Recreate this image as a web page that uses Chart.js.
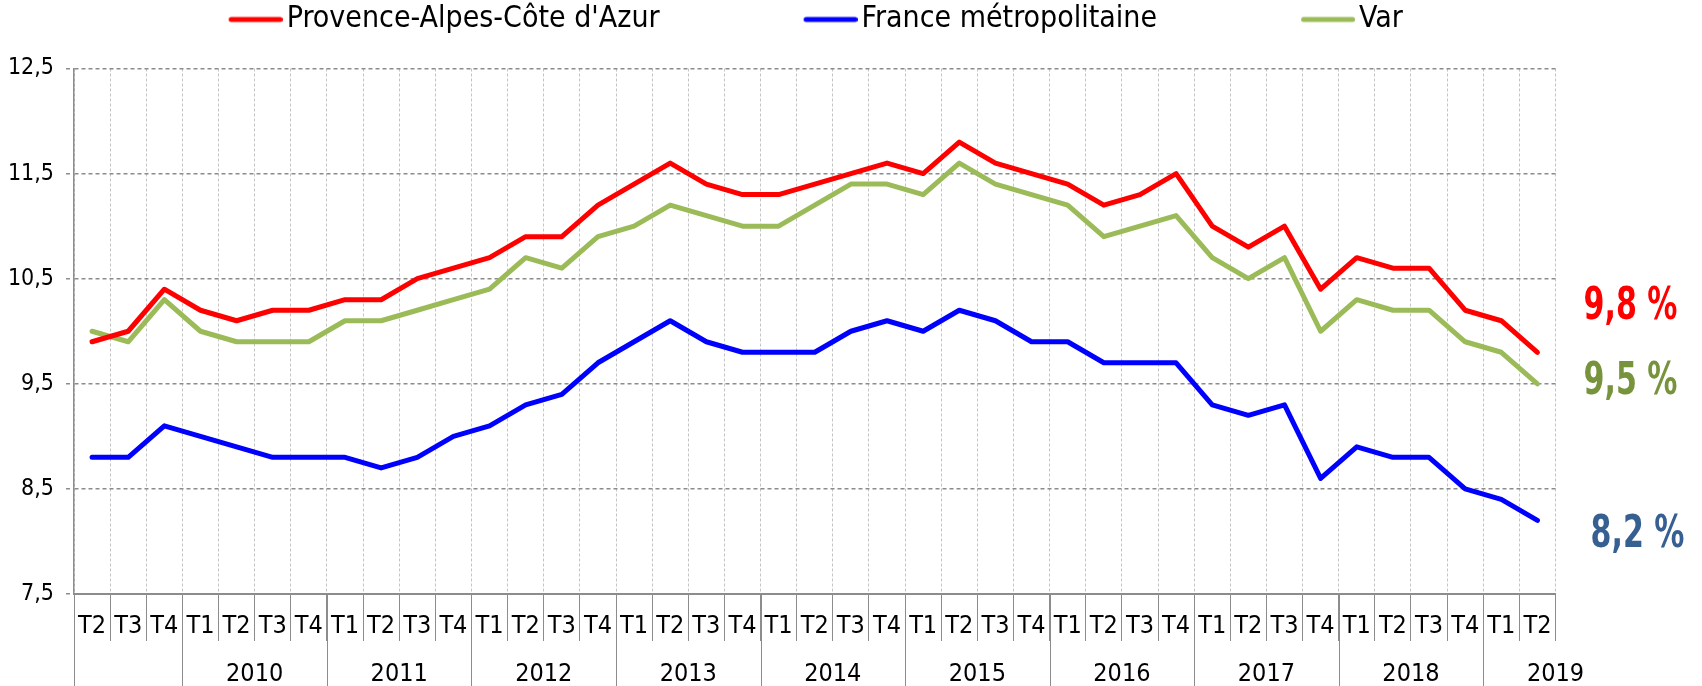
<!DOCTYPE html>
<html>
<head>
<meta charset="utf-8">
<script src="https://cdn.jsdelivr.net/npm/chart.js@4.4.0/dist/chart.umd.min.js"></script>
<style>
html,body{margin:0;padding:0;background:#fff;}
canvas{display:block;}
</style>
</head>
<body>
<canvas id="c" width="1702" height="686"></canvas>
<script>
// ---- data ----
const quarters = ['T2','T3','T4',
  'T1','T2','T3','T4', 'T1','T2','T3','T4', 'T1','T2','T3','T4',
  'T1','T2','T3','T4', 'T1','T2','T3','T4', 'T1','T2','T3','T4',
  'T1','T2','T3','T4', 'T1','T2','T3','T4', 'T1','T2','T3','T4',
  'T1','T2'];
const years = ['2010','2011','2012','2013','2014','2015','2016','2017','2018','2019'];
const yearStarts = [3,7,11,15,19,23,27,31,35,39];

const paca = [9.9,10.0,10.4,10.2,10.1,10.2,10.2,10.3,10.3,10.5,10.6,10.7,10.9,10.9,11.2,11.4,11.6,11.4,11.3,11.3,
  11.4,11.5,11.6,11.5,11.8,11.6,11.5,11.4,11.2,11.3,11.5,11.0,10.8,11.0,10.4,10.7,10.6,10.6,10.2,10.1,9.8];
const france = [8.8,8.8,9.1,9.0,8.9,8.8,8.8,8.8,8.7,8.8,9.0,9.1,9.3,9.4,9.7,9.9,10.1,9.9,9.8,9.8,
  9.8,10.0,10.1,10.0,10.2,10.1,9.9,9.9,9.7,9.7,9.7,9.3,9.2,9.3,8.6,8.9,8.8,8.8,8.5,8.4,8.2];
const varDep = [10.0,9.9,10.3,10.0,9.9,9.9,9.9,10.1,10.1,10.2,10.3,10.4,10.7,10.6,10.9,11.0,11.2,11.1,11.0,11.0,
  11.2,11.4,11.4,11.3,11.6,11.4,11.3,11.2,10.9,11.0,11.1,10.7,10.5,10.7,10.0,10.3,10.2,10.2,9.9,9.8,9.5];
const seriesNames = ["Provence-Alpes-Côte d'Azur", 'France métropolitaine', 'Var'];
const endLabels = ['9,8 %', '9,5 %', '8,2 %'];

// ---- styling ----
const FONT = "'Liberation Sans Narrow', 'DejaVu Sans Condensed', 'Roboto Condensed', 'Liberation Sans', sans-serif";
const LEG_FONT = 30, LEG_W = 183, LEG_EXT = 11, PADL = -64;
Chart.defaults.font.family = FONT;
Chart.defaults.color = '#000';

function legendLine(color) {
  const Wi = LEG_W + 2 * LEG_EXT, h = 8;
  const c = document.createElement('canvas');
  c.width = Wi; c.height = h;
  const g = c.getContext('2d');
  g.strokeStyle = color; g.lineWidth = 5; g.lineCap = 'round';
  g.beginPath(); g.moveTo(Wi - 54 + 2.5, h / 2); g.lineTo(Wi - 2.5, h / 2); g.stroke();
  return c;
}

function ds(label, data, color) {
  return {
    label, data, borderColor: color, backgroundColor: color, borderWidth: 5,
    pointRadius: 0, pointHoverRadius: 0, tension: 0, pointStyle: legendLine(color),
    borderJoinStyle: 'round', borderCapStyle: 'round'
  };
}

const yearAxisPlugin = {
  id: 'yearAxis',
  afterDraw(chart) {
    const {ctx, chartArea, scales: {x, y}} = chart;
    ctx.save();
    ctx.strokeStyle = '#8c8c8c';
    ctx.lineWidth = 1;
    [0].concat(yearStarts).forEach(i => {
      const px = Math.round(x.getPixelForValue(i - 0.5)) + 0.5;
      ctx.beginPath(); ctx.moveTo(px, chartArea.bottom); ctx.lineTo(px, chart.height); ctx.stroke();
    });
    ctx.fillStyle = '#000';
    ctx.font = '25px ' + FONT;
    ctx.textAlign = 'center';
    ctx.textBaseline = 'middle';
    years.forEach((yr, k) => {
      ctx.fillText(yr, x.getPixelForValue(yearStarts[k] + 1.5), chartArea.bottom + 80);
    });
    // end-of-series value labels
    const ends = [
      {t: endLabels[0], c: '#FF0000', v: paca[paca.length - 1], dy: -45, dx: 75},
      {t: endLabels[1], c: '#77933C', v: varDep[varDep.length - 1], dy: -1, dx: 75},
      {t: endLabels[2], c: '#376092', v: france[france.length - 1], dy: 15, dx: 82}
    ];
    ctx.font = 'bold 44px ' + FONT;
    ends.forEach(e => {
      ctx.save();
      ctx.translate(chartArea.right + e.dx, y.getPixelForValue(e.v) + e.dy);
      ctx.scale(0.76, 1);
      ctx.fillStyle = e.c;
      ctx.fillText(e.t, 0, 0);
      ctx.restore();
    });
    ctx.restore();
  }
};

new Chart(document.getElementById('c'), {
  type: 'line',
  data: {
    labels: quarters,
    datasets: [
      ds(seriesNames[0], paca, '#FF0000'),
      ds(seriesNames[1], france, '#0000FF'),
      ds(seriesNames[2], varDep, '#9BBB59')
    ]
  },
  options: {
    responsive: false,
    animation: false,
    devicePixelRatio: 1,
    layout: {padding: {left: PADL, right: 146.5, top: 0.5, bottom: 0}},
    plugins: {
      legend: {
        position: 'top',
        labels: {usePointStyle: true, pointStyleWidth: LEG_W, padding: 4, font: {size: LEG_FONT}, color: '#000'}
      },
      subtitle: {display: true, text: '', weight: 0, padding: 0, font: {size: 24, lineHeight: 1}},
      tooltip: {enabled: false}
    },
    scales: {
      x: {
        type: 'category',
        offset: true,
        grid: {offset: true, color: '#c4c4c4', lineWidth: 1, tickColor: '#8c8c8c', tickLength: 47, tickWidth: 1},
        border: {display: true, color: '#8c8c8c', width: 2, dash: [3, 2]},
        ticks: {autoSkip: false, maxRotation: 0, minRotation: 0, padding: -30, font: {size: 25}, color: '#000'},
        afterFit: s => { s.height = 92; }
      },
      y: {
        min: 7.5, max: 12.5,
        ticks: {stepSize: 1, padding: 12, font: {size: 23}, color: '#000',
          callback: v => v.toFixed(1).replace('.', ',')},
        grid: {color: '#8c8c8c', lineWidth: 1.5, tickLength: 8, tickColor: '#8c8c8c', tickBorderDash: [4, 3]},
        border: {display: true, color: '#8c8c8c', width: 1.5, dash: [4, 3]},
        afterFit: s => { s.width = 74 - PADL; }
      }
    }
  },
  plugins: [yearAxisPlugin]
});
</script>
</body>
</html>
